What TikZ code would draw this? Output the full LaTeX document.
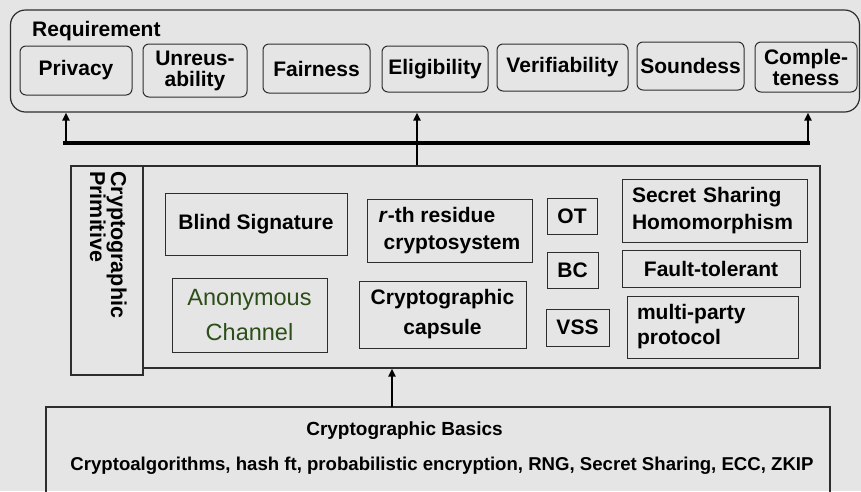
\documentclass[tikz,border=0pt]{standalone}
\usepackage{fontspec}
\setmainfont{Liberation Sans}
\usetikzlibrary{arrows.meta,calc}
\definecolor{bgcol}{RGB}{229,229,229}
\definecolor{edgecol}{RGB}{45,45,45}
\definecolor{anongreen}{RGB}{44,78,24}
\tikzset{
  x=1pt, y=-1pt,
  reqbox/.style={draw=edgecol, line width=1pt, rounded corners=6pt, inner sep=0pt,
    font=\fontsize{21}{21}\selectfont\bfseries, align=center},
  primbox/.style={draw=edgecol, line width=1pt, inner sep=0pt,
    font=\fontsize{21}{26}\selectfont\bfseries, align=center},
  bigframe/.style={draw=edgecol, line width=1.2pt, inner sep=0pt},
  uparrow/.style={line width=2pt, -{Triangle[width=7pt,length=8pt]}},
  busline/.style={line width=4.5pt},
}
\begin{document}
\begin{tikzpicture}
% canvas
\fill[bgcol] (0,0) rectangle (861,491);
\useasboundingbox (0,0) rectangle (861,491);

% requirement layer
\node[bigframe, rounded corners=15pt, minimum width=849pt, minimum height=102pt] (req) at (435,61) {};
\node[font=\fontsize{21}{22}\selectfont\bfseries, anchor=west, inner sep=0pt] (reqlabel) at (32,31) {Requirement};
\node[reqbox, minimum width=112pt, minimum height=49pt] (privacy) at (76,70.5) {Privacy};
\node[reqbox, minimum width=104pt, minimum height=53pt] (unreus) at (195,70.5) {Unreus-\\ability};
\node[reqbox, minimum width=107pt, minimum height=49pt] (fair) at (316.5,68.5) {Fairness};
\node[reqbox, minimum width=106pt, minimum height=46pt] (elig) at (435,69) {Eligibility};
\node[reqbox, minimum width=131pt, minimum height=47pt] (verif) at (562.5,67.5) {Verifiability};
\node[reqbox, minimum width=107pt, minimum height=48pt] (sound) at (690.5,66) {Soundess};
\node[reqbox, minimum width=102pt, minimum height=50pt] (complete) at (806,67) {Comple-\\teness};

% primitive layer
\node[bigframe, minimum width=72pt, minimum height=209pt] (primlabel) at (107,270.5) {};
\node[font=\fontsize{21.5}{20}\selectfont\bfseries, rotate=-90, align=left, anchor=north west, inner sep=0pt]
  (primtext) at (127,171) {Cryptographic\\Primitive};
\node[bigframe, minimum width=677pt, minimum height=202pt] (prim) at (481.5,267) {};

\node[primbox, minimum width=182pt, minimum height=62pt] (blind) at (256,224) {Blind Signature};
\node[primbox, minimum width=165pt, minimum height=63pt, font=\fontsize{21}{27}\selectfont\bfseries, align=left] (rth) at (449.5,230.5)
  {\textit{r}-th residue\\\hspace*{5pt}cryptosystem};
\node[primbox, minimum width=155pt, minimum height=74pt, font=\fontsize{23.5}{35}\selectfont\mdseries, text=anongreen] (anon) at (249.5,315)
  {Anonymous\\Channel};
\node[primbox, minimum width=167pt, minimum height=67pt, font=\fontsize{21}{30}\selectfont\bfseries] (capsule) at (442.5,314.5)
  {Cryptographic\\capsule};
\node[primbox, minimum width=50pt, minimum height=36pt] (ot) at (572,216) {OT};
\node[primbox, minimum width=51pt, minimum height=36pt] (bc) at (572.5,270) {BC};
\node[primbox, minimum width=63pt, minimum height=37pt] (vss) at (577.5,327.5) {VSS};
\node[primbox, minimum width=185pt, minimum height=63pt, font=\fontsize{21}{27}\selectfont\bfseries, align=left,
  text width=165pt] (ssh) at (714.5,210.5) {Secret Sharing\\Homomorphism};
\node[primbox, minimum width=178pt, minimum height=37pt] (fault) at (711,268.5) {Fault-tolerant};
\node[primbox, minimum width=171pt, minimum height=62pt, font=\fontsize{21}{25}\selectfont\bfseries, align=left,
  text width=151pt] (multi) at (712.5,327) {multi-party\\protocol};

% basics layer (runs off the lower edge)
\draw[edgecol, line width=1.2pt] (46,520) |- (830,407) -- (830,520);
\coordinate (basictop) at (392,407);
\node[font=\fontsize{19}{22}\selectfont\bfseries, inner sep=0pt] (basictitle) at (404.5,431) {Cryptographic Basics};
\node[font=\fontsize{18.6}{20}\selectfont\bfseries, inner sep=0pt] (basiclist) at (442,466)
  {Cryptoalgorithms, hash ft, probabilistic encryption, RNG, Secret Sharing, ECC, ZKIP};

% connectors
\coordinate (busL) at (63,143);
\coordinate (busR) at (810,143);
\coordinate (tapL) at (66,143);
\coordinate (tapM) at (417,143);
\coordinate (tapR) at (808,143);
\draw[busline] (busL) -- (busR);
\draw[uparrow] (tapL) -- (req.south -| tapL);
\draw[uparrow] (prim.north -| tapM) -- (req.south -| tapM);
\draw[uparrow] (tapR) -- (req.south -| tapR);
\draw[uparrow] (basictop) -- (prim.south -| basictop);
\end{tikzpicture}
\end{document}
